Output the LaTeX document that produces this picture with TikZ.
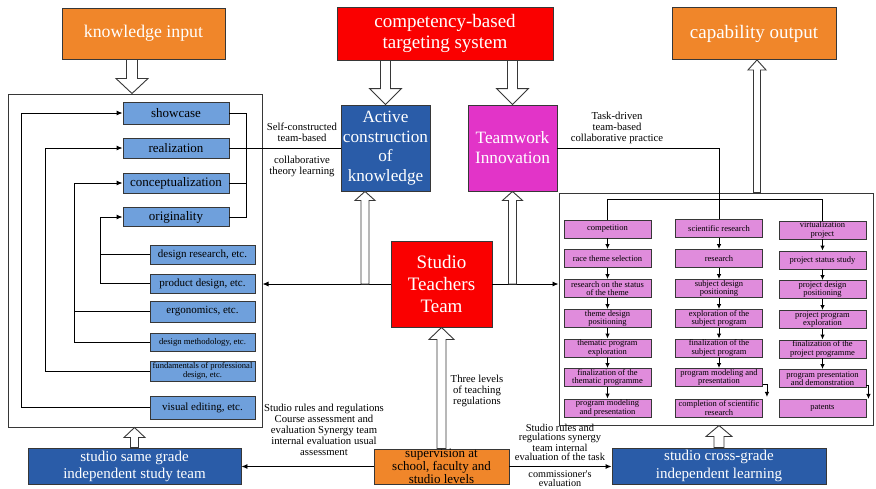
\documentclass[tikz,border=0pt]{standalone}
\usepackage{fontspec}
\setmainfont{Liberation Serif}
\newfontfamily\tnr{Liberation Serif}
\usetikzlibrary{calc,arrows.meta}

\definecolor{orangeA}{RGB}{240,134,42}
\definecolor{redA}{RGB}{250,0,0}
\definecolor{blueD}{RGB}{42,92,168}
\definecolor{blueL}{RGB}{111,160,220}
\definecolor{magA}{RGB}{226,52,200}
\definecolor{pinkA}{RGB}{224,140,220}
\definecolor{edgeA}{RGB}{55,55,55}

\newcommand{\fs}[2]{\tnr\fontsize{#1}{#2}\selectfont}

% hollow block arrow from #1 to #2 (vertical); #3 shaft half width, #4 head half width, #5 head length
\newcommand{\fatarrow}[5]{%
  \draw[fat] let \p1=(#1), \p2=(#2), \n1={(\y2)-(sign((\y2)-(\y1))*#5pt)} in
    (\x1-#3pt,\y1) -- (\x1-#3pt,\n1) -- (\x1-#4pt,\n1) -- (\x1,\y2)
    -- (\x1+#4pt,\n1) -- (\x1+#3pt,\n1) -- (\x1+#3pt,\y1) -- cycle;}

\tikzset{
  box/.style={draw=edgeA, line width=0.9pt, inner sep=0pt, align=center},
  sz/.style 2 args={minimum width=#1pt, minimum height=#2pt},
  topbox/.style={box, text=white, font=\fs{19}{21}},
  lbox/.style={box, fill=blueL, text=black},
  pbox/.style={box, fill=pinkA, sz={87}{18}, font=\fs{8.5}{8.5}},
  lbl/.style={inner sep=0pt, align=center, font=\fs{10.7}{11}},
  arr/.style={line width=0.9pt, -{Latex[length=6pt,width=5pt]}},
  sarr/.style={line width=0.9pt, -{Latex[length=5pt,width=4.5pt]}},
  ln/.style={line width=0.9pt},
  fat/.style={draw=edgeA, fill=white, line width=0.9pt},
  panel/.style={draw=edgeA, line width=1pt, fill=white, inner sep=0pt}
}

\begin{document}
\begin{tikzpicture}[x=1pt,y=-1pt]
\fill[white] (0,0) rectangle (876,488);
\useasboundingbox (0,0) rectangle (876,488);

% top row
\node[topbox, fill=orangeA, sz={163}{51}, font=\fs{17.8}{21}] (know) at (143.5,33.5) {knowledge input};
\node[topbox, fill=redA, sz={216}{53}] (comp) at (445,33.5) {competency-based\\targeting system};
\node[topbox, fill=orangeA, sz={164}{52}] (cap) at (754,33.5) {capability output};

% panels
\node[panel, sz={254}{333}] (lp) at (135,260.5) {};
\node[panel, sz={314}{232}] (rp) at (716,309) {};

% central boxes
\node[box, fill=blueD, text=white, sz={89}{86}, font=\fs{17.2}{19.5}] (act) at (385.5,148) {Active\\construction\\of\\knowledge};
\node[box, fill=magA, text=white, sz={89}{86}, font=\fs{17.3}{20}] (team) at (512.5,148) {Teamwork\\Innovation};
\node[box, fill=redA, text=white, sz={101}{86}, font=\fs{19}{22}] (stud) at (441.5,284) {Studio\\Teachers\\Team};

% left panel boxes
\node[lbox, sz={106}{22}, font=\fs{13}{14}] (show) at (176,113) {showcase};
\node[lbox, sz={106}{20}, font=\fs{13}{14}] (real) at (176,148) {realization};
\node[lbox, sz={106}{20}, font=\fs{13}{14}] (conc) at (176,183) {conceptualization};
\node[lbox, sz={106}{19}, font=\fs{13}{14}] (orig) at (176,217) {originality};
\node[lbox, sz={105}{19}, font=\fs{11}{12}] (desr) at (202.5,254.5) {design research, etc.};
\node[lbox, sz={105}{19}, font=\fs{11}{12}] (prod) at (202.5,283.5) {product design, etc.};
\node[lbox, sz={105}{21}, font=\fs{11}{12}] (ergo) at (202.5,311.5) {ergonomics, etc.};
\node[lbox, sz={105}{18}, font=\fs{8.7}{9}] (meth) at (202.5,342) {design methodology, etc.};
\node[lbox, sz={105}{20}, font=\fs{8.6}{8.6}] (fund) at (202.5,371) {fundamentals of professional\\design, etc.};
\node[lbox, sz={105}{23}, font=\fs{11}{12}] (vis) at (202.5,407.5) {visual editing, etc.};

% right panel boxes
\node[pbox] (c1r1) at (607.5,229) {competition};
\node[pbox] (c1r2) at (607.5,258.5) {race theme selection};
\node[pbox] (c1r3) at (607.5,288.5) {research on the status\\of the theme};
\node[pbox] (c1r4) at (607.5,318.5) {theme design\\positioning};
\node[pbox] (c1r5) at (607.5,348) {thematic program\\exploration};
\node[pbox] (c1r6) at (607.5,377.5) {finalization of the\\thematic programme};
\node[pbox] (c1r7) at (607.5,408) {program modeling\\and presentation};

\node[pbox] (c2r1) at (719,228.5) {scientific research};
\node[pbox] (c2r2) at (719,258.5) {research};
\node[pbox] (c2r3) at (719,288.5) {subject design\\positioning};
\node[pbox] (c2r4) at (719,318.5) {exploration of the\\subject program};
\node[pbox] (c2r5) at (719,348) {finalization of the\\subject program};
\node[pbox] (c2r6) at (719,377.5) {program modeling and\\presentation};
\node[pbox] (c2r7) at (719,408) {completion of scientific\\research};

\node[pbox] (c3r1) at (822.5,230) {virtualization\\project};
\node[pbox] (c3r2) at (822.5,260) {project status study};
\node[pbox] (c3r3) at (822.5,289.5) {project design\\positioning};
\node[pbox] (c3r4) at (822.5,319.5) {project program\\exploration};
\node[pbox] (c3r5) at (822.5,349) {finalization of the\\project programme};
\node[pbox] (c3r6) at (822.5,378.5) {program presentation\\and demonstration};
\node[pbox] (c3r7) at (822.5,408.5) {patents};

% bottom row
\node[box, fill=blueD, text=white, sz={213}{36}, font=\fs{15}{17}] (same) at (134.5,466) {studio same grade\\independent study team};
\node[box, fill=orangeA, text=black, sz={135}{35}, font=\fs{13}{11}] (sup) at (441.5,466.5) {supervision at\\school, faculty and\\studio levels};
\node[box, fill=blueD, text=white, sz={214}{36}, font=\fs{15}{17.5}] (cross) at (719,466) {studio cross-grade\\independent learning};

% helper coordinates
\coordinate (kx) at (132,0);
\coordinate (capx) at (757,0);
\coordinate (ax) at (365,0);
\coordinate (bx) at (246,0);
\coordinate (dist) at (0,199);
\coordinate (fx1) at (21,0);
\coordinate (fx2) at (45,0);
\coordinate (fx3) at (74,0);
\coordinate (fx4) at (100,0);

% feedback lines inside the left panel
\draw[arr] (vis.west) -- (vis.west -| fx1) |- (show.west);
\draw[arr] (fund.west) -- (fund.west -| fx2) |- (real.west);
\draw[arr] (meth.west) -- (meth.west -| fx3) |- (conc.west);
\draw[ln] (ergo.west) -- (ergo.west -| fx3);
\draw[arr] (prod.west) -- (prod.west -| fx4) |- (orig.west);
\draw[ln] (desr.west) -- (desr.west -| fx4);

% bracket on the right of the four stages
\draw[ln] (show.east) -- (show.east -| bx) |- (orig.east);
\draw[ln] (conc.east) -- (conc.east -| bx);
\draw[ln] (real.east) -- (act.west);

% Teamwork to the three project tracks
\draw[ln] (team.east) -| (c2r1.north);
\draw[ln] (c1r1.north) -- (c1r1.north |- dist) -| (c3r1.north);

% track arrows
\foreach \c in {1,2,3}{
  \foreach \r/\s in {1/2,2/3,3/4,4/5,5/6}{
    \draw[sarr] (c\c r\r) -- (c\c r\s);
  }
}
\draw[sarr] (c1r6) -- (c1r7);
\draw[sarr] ([yshift=-7pt]c2r6.east) -| ([xshift=4pt,yshift=-10pt]c2r6.south east);
\draw[sarr] ([yshift=-7pt]c3r6.east) -| ([xshift=2pt,yshift=-11pt]c3r6.south east);

% studio team to both panels
\draw[arr] (stud.west) -- (stud.west -| lp.east);
\draw[arr] (stud.east) -- (stud.east -| rp.west);

% supervision to the two learning teams
\draw[arr] (sup.west) -- (sup.west -| same.east);
\draw[arr] (sup.east) -- (sup.east -| cross.west);

% hollow arrows
\fatarrow{know.south -| kx}{kx |- lp.north}{5.5}{16}{15}
\fatarrow{act.north |- comp.south}{act.north}{5}{16}{16}
\fatarrow{team.north |- comp.south}{team.north}{5}{16}{16}
\fatarrow{capx |- rp.north}{capx |- cap.south}{3.5}{9}{10}
\fatarrow{ax |- stud.west}{ax |- act.south}{4}{10}{9}
\fatarrow{team.south |- stud.east}{team.south}{4}{10}{9}
\fatarrow{sup.north}{stud.south}{4.5}{12.5}{12}
\fatarrow{same.north}{same.north |- lp.south}{4}{10.5}{10}
\fatarrow{cross.north}{cross.north |- rp.south}{5}{13}{11}

% labels
\node[lbl] (t1) at (302,132.5) {Self-constructed\\team-based};
\node[lbl] (t2) at (302,166.5) {collaborative\\theory learning};
\node[lbl] (t3) at (617,128) {Task-driven\\team-based\\collaborative practice};
\node[lbl] (t4) at (477,391) {Three levels\\of teaching\\regulations};
\node[lbl] (t5) at (324,430) {Studio rules and regulations\\Course assessment and\\evaluation Synergy team\\internal evaluation usual\\assessment};
\node[lbl, font=\fs{10.5}{9}] (t6) at (560,442.5) {Studio rules and\\regulations synergy\\team internal\\evaluation of the task};
\node[lbl, font=\fs{10.2}{8.5}] (t7) at (560,478.5) {commissioner's\\evaluation};
\end{tikzpicture}
\end{document}
